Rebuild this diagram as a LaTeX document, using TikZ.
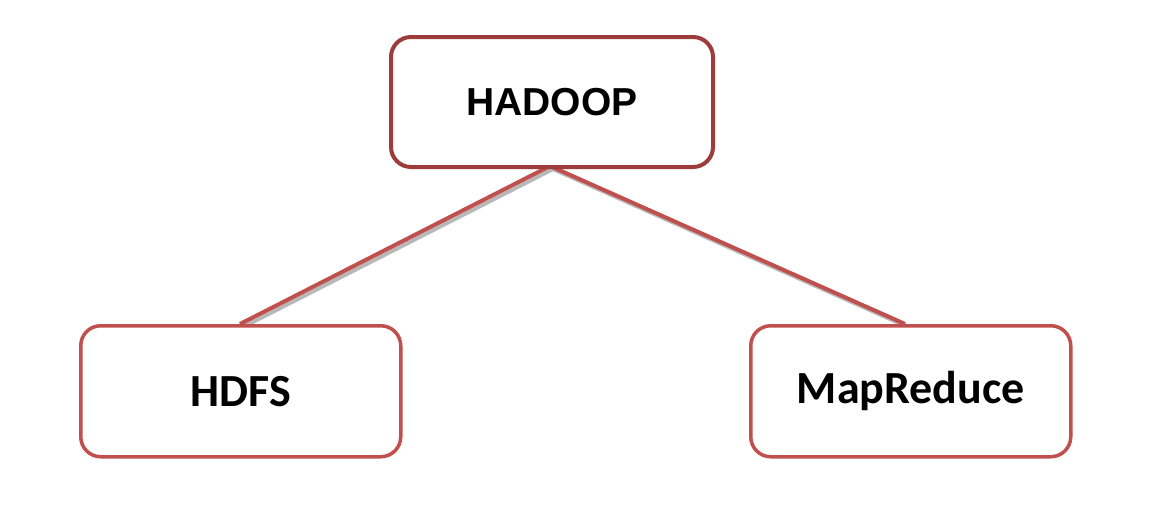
\documentclass[tikz,border=0pt]{standalone}
\usepackage{fontspec}
\setmainfont{Carlito}
\newfontfamily\arialb{Liberation Sans}
\definecolor{topred}{HTML}{9E3B3B}
\definecolor{boxred}{HTML}{C0504D}
\definecolor{shadowgray}{HTML}{B8B8B8}
\tikzset{
  box/.style={draw=boxred, line width=3.5pt, rounded corners=20pt, fill=white,
    minimum width=320pt, minimum height=131pt, inner sep=0pt, anchor=north west},
  link/.style={draw=boxred, line width=4pt},
  linkshadow/.style={draw=shadowgray, line width=4pt},
}
\begin{document}
\begin{tikzpicture}[x=1pt,y=-1pt]
\useasboundingbox[fill=white] (0,0) rectangle (1161,509);
\coordinate (top) at (550,166);
\coordinate (lend) at (240,324);
\coordinate (rend) at (905,324);
\draw[linkshadow] ([shift={(3,3)}]top) -- ([shift={(3,3)}]lend);
\draw[linkshadow] ([shift={(3,3)}]top) -- ([shift={(3,3)}]rend);
\draw[link] (top) -- (lend);
\draw[link] (top) -- (rend);
\node[box, draw=topred, line width=4pt, minimum width=322pt, minimum height=130pt] (hadoop) at (389,35)
  {\arialb\fontsize{39}{44}\bfseries HADOOP};
\node[box] (hdfs) at (79,324) {\fontsize{46}{52}\bfseries HDFS};
\node[box] (mr) at (749,324) {\fontsize{46}{52}\bfseries MapReduce};
\end{tikzpicture}
\end{document}
